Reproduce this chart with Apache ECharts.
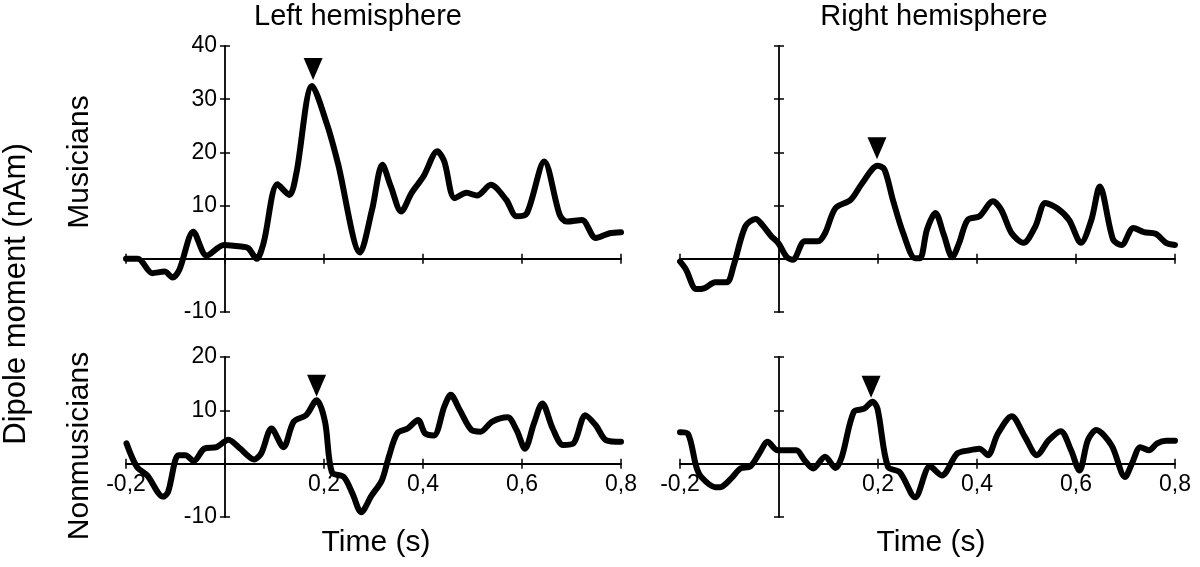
<!DOCTYPE html>
<html>
<head>
<meta charset="utf-8">
<script src="https://cdn.jsdelivr.net/npm/echarts@6/dist/echarts.min.js"></script>
<style>
  html, body { margin: 0; padding: 0; background: #fff; }
  #chart { width: 1200px; height: 567px; }
</style>
</head>
<body>
<div id="chart"></div>
<script>
// time axis (s) and dipole moment (nAm)

// Musicians, left hemisphere
const tMusLeft = [-0.2,-0.176,-0.147,-0.122,-0.106,-0.092,-0.064,-0.037,-0.002,0.033,0.047,0.064,0.078,0.106,0.130,0.144,0.176,0.207,0.228,0.273,0.297,0.318,0.335,0.356,0.377,0.401,0.429,0.443,0.464,0.488,0.509,0.537,0.568,0.589,0.610,0.645,0.676,0.690,0.721,0.749,0.777,0.8]
const vMusLeft = [0,0,-2.7,-2.4,-3.5,-2,5.1,0.6,2.6,2.3,2,0,3,14,12,16,32.5,25,18,1.2,9.2,17.7,13.6,8.9,12.4,15.5,20.2,18.3,11.4,12.4,11.9,13.9,11.1,8,8.6,18.3,8.3,7,7.3,3.9,4.8,5]

// Musicians, right hemisphere
const tMusRight = [-0.2,-0.188,-0.167,-0.150,-0.129,-0.105,-0.092,-0.068,-0.047,-0.034,-0.016,-0.001,0.015,0.028,0.052,0.079,0.093,0.114,0.145,0.168,0.199,0.213,0.230,0.251,0.275,0.285,0.299,0.316,0.333,0.350,0.364,0.381,0.405,0.432,0.449,0.470,0.494,0.518,0.538,0.562,0.586,0.610,0.631,0.648,0.675,0.692,0.716,0.737,0.761,0.782,0.8]
const vMusRight = [-0.5,-2,-5.7,-5.5,-4.4,-4.4,-1.4,6.1,7.5,6.4,4.3,2.9,0.4,-0.2,3.3,3.3,4.8,9.5,11.1,14.2,17.5,16.8,11.1,4.8,0.1,0.1,5.5,8.6,4.5,0.3,3,7.3,8,10.8,9.2,4.8,3,6.1,10.5,9.5,7.3,3,7.3,13.6,3.6,2.6,5.8,5,4.7,3,2.6]

// Nonmusicians, left hemisphere
const tNonLeft = [-0.199,-0.178,-0.157,-0.125,-0.115,-0.094,-0.080,-0.063,-0.042,-0.017,0.007,0.031,0.059,0.073,0.094,0.118,0.139,0.164,0.185,0.202,0.216,0.240,0.258,0.275,0.296,0.317,0.331,0.348,0.369,0.390,0.404,0.422,0.443,0.456,0.474,0.498,0.516,0.540,0.571,0.589,0.606,0.624,0.641,0.662,0.683,0.704,0.728,0.749,0.770,0.8]
const vNonLeft = [3.8,-0.6,-2.2,-6.2,-5.3,1.6,1.6,0.5,2.8,3.1,4.5,2.8,0.8,1.9,6.6,3.1,7.9,9.1,11.9,7.9,-1.6,-2.5,-5.7,-9.1,-6,-3.1,1.3,5.7,6.6,8.2,5.7,5.3,10.7,12.9,10.1,6.3,6,7.9,8.7,6.3,2.8,7.5,11.3,6.6,3.5,3.8,9.1,7.2,4.4,4.1]

// Nonmusicians, right hemisphere
const tNonRight = [-0.2,-0.184,-0.167,-0.157,-0.129,-0.119,-0.097,-0.078,-0.058,-0.040,-0.023,-0.003,0.018,0.035,0.052,0.069,0.093,0.114,0.127,0.151,0.172,0.189,0.199,0.220,0.244,0.275,0.305,0.329,0.360,0.384,0.405,0.422,0.442,0.470,0.497,0.521,0.545,0.569,0.590,0.607,0.624,0.641,0.672,0.699,0.713,0.730,0.747,0.764,0.782,0.8]
const vNonRight = [5.9,5.6,-0.6,-2.5,-4.4,-4.4,-2.8,-0.9,-0.5,1.9,4.1,2.5,2.5,2.5,0.6,-0.9,1.3,-0.8,1.3,9.7,10.3,11.6,10.3,-0.6,-1.6,-6.3,-0.5,-2.2,1.9,2.5,2.8,1.6,5.6,8.9,5,1.6,4.4,6.1,2.5,-1.3,4.4,6.3,3.4,-2.5,0,3.1,2.5,3.8,4.3,4.3]

// peak markers (triangles), one per panel
const peakT = [0.178, 0.198, 0.185, 0.186]
const peakV = [35.7, 20.8, 14.6, 14.4]

// axis ranges
const xRange = { min: -0.2, max: 0.8, interval: 0.2 }
const yMusicians = { min: -10, max: 40 }
const yNonmusicians = { min: -10, max: 20 }

const FONT = '"Liberation Sans", Arial, sans-serif'
const PANEL_W = 495

const panels = [
  { t: tMusLeft, v: vMusLeft, left: 126, top: 46, height: 266, y: yMusicians, xLabels: false, yLabels: true },
  { t: tMusRight, v: vMusRight, left: 680, top: 46, height: 266, y: yMusicians, xLabels: false, yLabels: false },
  { t: tNonLeft, v: vNonLeft, left: 126, top: 357, height: 160, y: yNonmusicians, xLabels: true, yLabels: true },
  { t: tNonRight, v: vNonRight, left: 680, top: 357, height: 160, y: yNonmusicians, xLabels: true, yLabels: false }
]

const fmtTime = v => Math.abs(v) < 1e-9 ? '' : v.toFixed(1).replace('.', ',')
const fmtVal = v => v === 0 ? '' : String(v)

const grid = [], xAxis = [], yAxis = [], series = []
const tickStyle = { color: '#000', width: 1.5 }
const labelStyle = { color: '#000', fontSize: 23, fontFamily: FONT }

panels.forEach((p, i) => {
  grid.push({ left: p.left, top: p.top, width: PANEL_W, height: p.height })
  const gi = grid.length - 1

  // main x axis (ticks down) + mirror axis (ticks up) -> crossing ticks
  xAxis.push({
    gridIndex: gi, type: 'value', ...xRange, position: 'bottom',
    splitLine: { show: false },
    axisLine: { onZero: true, onZeroAxisIndex: i * 2, lineStyle: { color: '#000', width: 1.8 } },
    axisTick: { length: 5, lineStyle: tickStyle },
    axisLabel: { show: false }
  })
  xAxis.push({
    gridIndex: gi, type: 'value', ...xRange, position: 'top',
    splitLine: { show: false },
    axisLine: { show: false, onZero: true, onZeroAxisIndex: i * 2 },
    axisTick: { show: true, length: 5, lineStyle: tickStyle },
    axisLabel: { show: false }
  })
  yAxis.push({
    gridIndex: gi, type: 'value', min: p.y.min, max: p.y.max, interval: 10, position: 'left',
    splitLine: { show: false },
    axisLine: { show: true, onZero: true, onZeroAxisIndex: i * 2, lineStyle: { color: '#000', width: 1.8 } },
    axisTick: { show: true, length: 5, lineStyle: tickStyle },
    axisLabel: { show: false }
  })
  yAxis.push({
    gridIndex: gi, type: 'value', min: p.y.min, max: p.y.max, interval: 10, position: 'right',
    splitLine: { show: false },
    axisLine: { show: false, onZero: true, onZeroAxisIndex: i * 2 },
    axisTick: { show: true, length: 5, lineStyle: tickStyle },
    axisLabel: { show: false }
  })

  series.push({
    type: 'line',
    xAxisIndex: i * 2,
    yAxisIndex: i * 2,
    data: p.t.map((t, k) => [t, p.v[k]]),
    showSymbol: false,
    smooth: 0.3,
    lineStyle: { color: '#000', width: 6, cap: 'round', join: 'round' },
    z: 5,
    silent: true
  })
  series.push({
    type: 'scatter',
    xAxisIndex: i * 2,
    yAxisIndex: i * 2,
    data: [[peakT[i], peakV[i]]],
    symbol: 'triangle',
    symbolRotate: 180,
    symbolSize: [19, 22],
    itemStyle: { color: '#000', opacity: 1 },
    z: 6,
    silent: true
  })
})

// label-only helper grids whose edge sits on the zero line of each panel
panels.forEach(p => {
  const zeroX = p.left + PANEL_W * (0 - xRange.min) / (xRange.max - xRange.min)
  const zeroYFromTop = p.height * (p.y.max - 0) / (p.y.max - p.y.min)
  if (p.yLabels) {
    grid.push({ left: zeroX, top: p.top, width: p.left + PANEL_W - zeroX, height: p.height })
    const gi = grid.length - 1
    xAxis.push({ gridIndex: gi, type: 'value', show: false, min: 0, max: 1 })
    yAxis.push({
      gridIndex: gi, type: 'value', min: p.y.min, max: p.y.max, interval: 10, position: 'left',
      splitLine: { show: false }, axisLine: { show: false, onZero: false }, axisTick: { show: false },
      axisLabel: { ...labelStyle, formatter: fmtVal, margin: 8 }
    })
  }
  if (p.xLabels) {
    grid.push({ left: p.left, top: p.top, width: PANEL_W, height: zeroYFromTop })
    const gi = grid.length - 1
    yAxis.push({ gridIndex: gi, type: 'value', show: false, min: 0, max: 1 })
    xAxis.push({
      gridIndex: gi, type: 'value', ...xRange, position: 'bottom',
      splitLine: { show: false }, axisLine: { show: false, onZero: false }, axisTick: { show: false },
      axisLabel: { ...labelStyle, formatter: fmtTime, margin: 9, showMinLabel: true, showMaxLabel: true }
    })
  }
})

const textStyle = (size) => ({ fill: '#000', font: size + 'px ' + FONT, textAlign: 'center', textVerticalAlign: 'middle' })

const graphic = [
  { type: 'text', x: 358, y: 17, style: Object.assign({ text: 'Left hemisphere' }, textStyle(29)) },
  { type: 'text', x: 934, y: 17, style: Object.assign({ text: 'Right hemisphere' }, textStyle(29)) },
  { type: 'text', x: 376, y: 543, style: Object.assign({ text: 'Time (s)' }, textStyle(30)) },
  { type: 'text', x: 931, y: 543, style: Object.assign({ text: 'Time (s)' }, textStyle(30)) },
  { type: 'text', x: 80, y: 162, rotation: Math.PI / 2, style: Object.assign({ text: 'Musicians' }, textStyle(30)) },
  { type: 'text', x: 80, y: 446, rotation: Math.PI / 2, style: Object.assign({ text: 'Nonmusicians' }, textStyle(30)) },
  { type: 'text', x: 16, y: 294, rotation: Math.PI / 2, style: Object.assign({ text: 'Dipole moment (nAm)' }, textStyle(31)) }
]

const chart = echarts.init(document.getElementById('chart'), null, { renderer: 'canvas' })
chart.setOption({
  animation: false,
  backgroundColor: '#fff',
  grid, xAxis, yAxis, series, graphic
})
</script>
</body>
</html>
